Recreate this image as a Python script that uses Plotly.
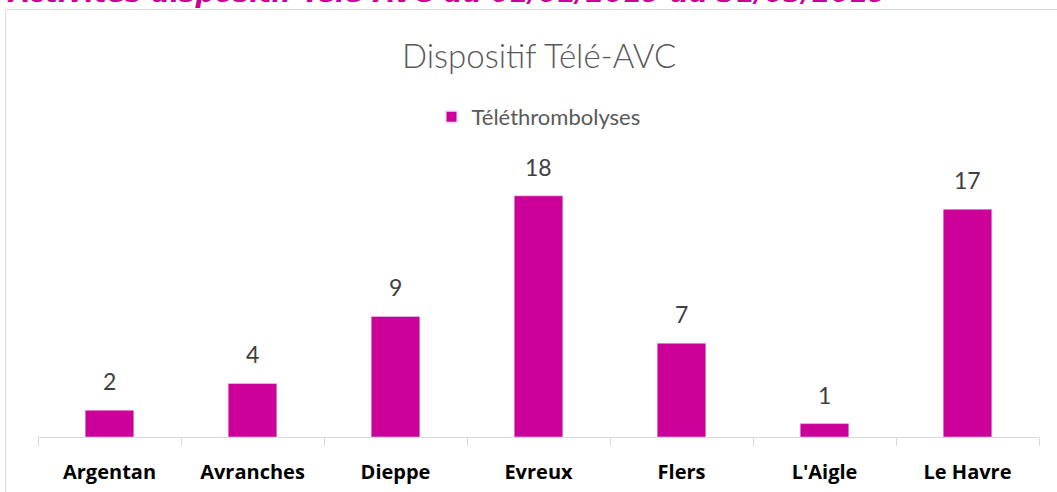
import plotly.graph_objects as go

categories = ["Argentan", "Avranches", "Dieppe", "Evreux", "Flers", "L'Aigle", "Le Havre"]
values = [2, 4, 9, 18, 7, 1, 17]
series_name = "Téléthrombolyses"
chart_title = "Dispositif Télé-AVC"
header = "Activités dispositif Télé-AVC du 01/01/2019 au 31/03/2019"

W, H = 1057, 492
L, R, T, B = 38, 18, 169, 55
pw, ph = W - L - R, H - T - B

def px_x(p):
    return (p - L) / pw

def px_y(p):
    return (H - B - p) / ph

BODY_FONT = "Lato, Open Sans, sans-serif"

fig = go.Figure()
fig.add_trace(go.Bar(
    x=categories, y=values, name=series_name,
    marker=dict(color="#CC0099"),
    width=0.34,
    showlegend=True,
))

# data labels placed above bars from the data
label_annotations = [
    dict(x=c, y=v, xref="x", yref="y", text=str(v), showarrow=False,
         yanchor="bottom", yshift=13,
         font=dict(size=23, color="#404040", family=BODY_FONT))
    for c, v in zip(categories, values)
]

border = dict(color="#d9d9d9", width=1)

fig.update_layout(
    width=W, height=H,
    margin=dict(l=L, r=R, t=T, b=B),
    paper_bgcolor="white", plot_bgcolor="white",
    showlegend=True,
    legend=dict(orientation="h", x=0.5, xanchor="center", y=px_y(117), yanchor="middle",
                font=dict(size=22, color="#595959", family=BODY_FONT),
                itemsizing="constant", itemwidth=30),
    xaxis=dict(showline=True, linecolor="#d9d9d9", linewidth=1,
               ticks="outside", tickson="boundaries", ticklen=8, tickcolor="#d9d9d9",
               tickfont=dict(size=20, color="#000000", family="Open Sans, sans-serif"),
               ticklabelstandoff=17,
               showgrid=False, fixedrange=True, automargin=False,
               tickvals=categories, ticktext=["<b>" + c + "</b>" for c in categories]),
    yaxis=dict(range=[0, 20], visible=False, showgrid=False, fixedrange=True),
    annotations=label_annotations + [
        dict(text=chart_title, xref="paper", yref="paper", x=0.5, y=px_y(55),
             xanchor="center", yanchor="middle", showarrow=False,
             font=dict(size=33, color="#595959", family="Lato Light, Lato, Open Sans, sans-serif")),
        dict(text="<b><i>" + header + "</i></b>", xref="paper", yref="paper",
             x=px_x(5), y=px_y(-8), xanchor="left", yanchor="middle", showarrow=False,
             font=dict(size=27, color="#CC0099", family="DejaVu Sans, sans-serif")),
    ],
    shapes=[
        dict(type="line", xref="paper", yref="paper",
             x0=px_x(5.5), x1=px_x(1120), y0=px_y(9.5), y1=px_y(9.5),
             line=border, layer="below"),
        dict(type="line", xref="paper", yref="paper",
             x0=px_x(5.5), x1=px_x(5.5), y0=px_y(9.5), y1=px_y(560),
             line=border, layer="below"),
    ],
)

fig.write_html("out.html", config={"displayModeBar": False},
               post_script="document.body.style.margin='0';document.body.style.overflow='hidden';")
